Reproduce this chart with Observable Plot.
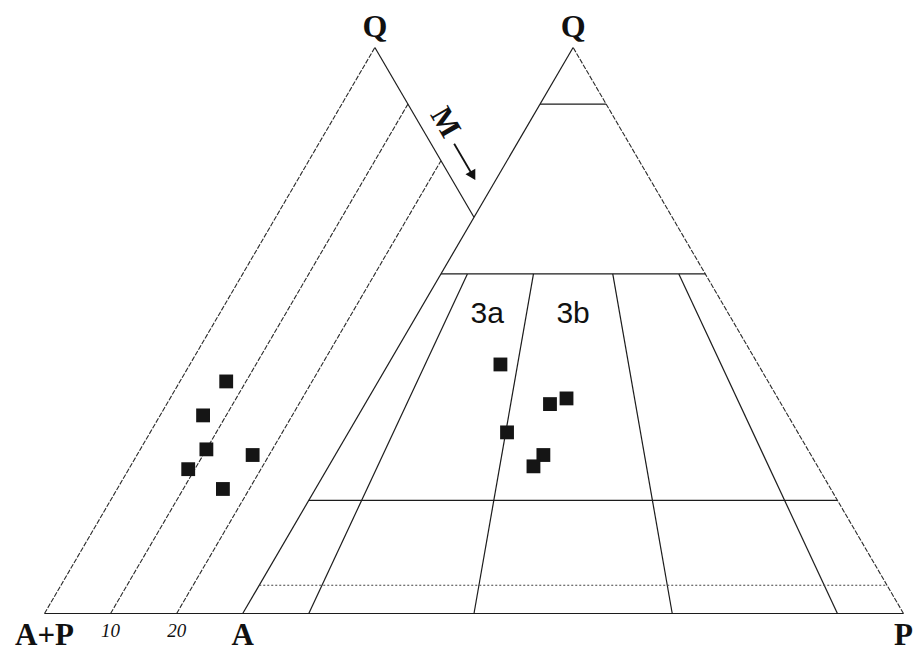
<!DOCTYPE html>
<html>
<head>
<meta charset="utf-8">
<script src="https://cdn.jsdelivr.net/npm/d3@7"></script>
<script src="https://cdn.jsdelivr.net/npm/@observablehq/plot@0.6"></script>
<style>
  html, body { margin: 0; padding: 0; background: #fff; }
  #chart svg { display: block; }
</style>
</head>
<body>
<div id="chart"></div>
<script>
// ---- Data (ternary percentages) ----
// Right triangle: Q – A – P (Streckeisen QAP)
const rightQ = [44, 32, 37, 38, 28, 26];
const rightA = [39, 44, 35, 32, 40.5, 43];
const rightP = [17, 24, 28, 30, 31.5, 31];

// Left triangle: Q – (A+P) – M, with M% lines
const leftQ = [41, 35, 29, 25.5, 28, 22];
const leftM = [7, 6.5, 10, 9, 17.5, 16];

// Field division values
const qLevels = [90, 60, 20];        // solid Q% divisions
const qDotted = [5];                 // dotted Q% division
const pRatios = [10, 35, 65, 90];    // P/(A+P) % radial divisions
const mLevels = [10, 20];            // M% lines in left triangle
const mTickLabels = ["10", "20"];
const mOffset = 30;                  // left triangle base shift (A sits at M = 30)

// Field labels (ternary Q, A, P)
const fieldNames = ["3a", "3b"];
const fieldQ = [53, 53];
const fieldA = [36.5, 23.5];
const fieldP = [10.5, 23.5];

// ---- Ternary helpers ----
const rx = (q, p) => p + q / 2;                 // right triangle x (A=0, P=100)
const lx = (q, m) => -mOffset + m + q / 2;     // left triangle x

const rightPts = rightQ.map((q, i) => {
  const s = q + rightA[i] + rightP[i];
  const Q = q / s * 100, P = rightP[i] / s * 100;
  return {x: rx(Q, P), y: Q};
});
const leftPts = leftQ.map((q, i) => ({x: lx(q, leftM[i]), y: q}));

const solid = [];
// right triangle left edge
solid.push({x1: rx(0, 0), y1: 0, x2: rx(100, 0), y2: 100});
// base across both triangles
solid.push({x1: lx(0, 0), y1: 0, x2: rx(0, 100), y2: 0});
// horizontal Q divisions
qLevels.forEach(q => solid.push({x1: rx(q, 0), y1: q, x2: rx(q, 100 - q), y2: q}));
// radial P/(A+P) divisions from Q=60 to base
pRatios.forEach(r => solid.push({x1: rx(60, 40 * r / 100), y1: 60, x2: rx(0, r), y2: 0}));
// left triangle right side (A+P = 0) from Q=100 down to Q=100-mOffset
solid.push({x1: lx(100, 0), y1: 100, x2: lx(100 - mOffset, mOffset), y2: 100 - mOffset});

const dashed = [];
// left triangle left side
dashed.push({x1: lx(0, 0), y1: 0, x2: lx(100, 0), y2: 100});
// M lines
mLevels.forEach(m => dashed.push({x1: lx(0, m), y1: 0, x2: lx(100 - m, m), y2: 100 - m}));
// right triangle right side
dashed.push({x1: rx(0, 100), y1: 0, x2: rx(100, 0), y2: 100});

const dotted = qDotted.map(q => ({x1: rx(q, 0), y1: q, x2: rx(q, 100 - q), y2: q}));

const fields = fieldNames.map((t, i) => {
  const s = fieldQ[i] + fieldA[i] + fieldP[i];
  const Q = fieldQ[i] / s * 100, P = fieldP[i] / s * 100;
  return {text: t, x: rx(Q, P), y: Q};
});

const apexLabels = [
  {text: "Q", x: lx(100, 0), y: 100},
  {text: "Q", x: rx(100, 0), y: 100}
];
const baseLabels = [
  {text: "A+P", x: lx(0, 0), y: 0, anchor: "middle"},
  {text: "A", x: rx(0, 0), y: 0, anchor: "middle"},
  {text: "P", x: rx(0, 100), y: 0, anchor: "start"}
];
const tickLabels = mLevels.map((m, i) => ({text: mTickLabels[i], x: lx(0, m), y: 0}));

// M arrow along the A+P = 0 side (slightly outside)
const arrowQ1 = 83, arrowQ2 = 77.6, arrowOff = -3.5;
const arrowSeg = [{
  x1: lx(arrowQ1, 100 - arrowQ1 - arrowOff), y1: arrowQ1,
  x2: lx(arrowQ2, 100 - arrowQ2 - arrowOff), y2: arrowQ2
}];
const arrowHead = [{x: lx(arrowQ2, 100 - arrowQ2 - arrowOff), y: arrowQ2}];
const mLabel = [{text: "M", x: lx(86.8, 100 - 86.8 + 4.1), y: 86.8}];

const serif = "Liberation Serif, Times New Roman, serif";

const chart = Plot.plot({
  width: 918,
  height: 652,
  margin: 0,
  style: {background: "#fff"},
  x: {domain: [-30, 100], range: [44, 903], axis: null},
  y: {domain: [0, 100], range: [613, 47], axis: null},
  marks: [
    Plot.link(solid, {x1: "x1", y1: "y1", x2: "x2", y2: "y2", stroke: "#1c1c1c", strokeWidth: 1.2}),
    Plot.link(dashed, {x1: "x1", y1: "y1", x2: "x2", y2: "y2", stroke: "#2a2a2a", strokeWidth: 1.1, strokeDasharray: "5,1.5"}),
    Plot.link(dotted, {x1: "x1", y1: "y1", x2: "x2", y2: "y2", stroke: "#444", strokeWidth: 1.1, strokeDasharray: "2,2"}),
    Plot.dot(leftPts, {x: "x", y: "y", symbol: "square", r: 7.8, fill: "#151515", stroke: "none"}),
    Plot.dot(rightPts, {x: "x", y: "y", symbol: "square", r: 7.8, fill: "#151515", stroke: "none"}),
    Plot.link(arrowSeg, {x1: "x1", y1: "y1", x2: "x2", y2: "y2", stroke: "#111", strokeWidth: 1.8}),
    Plot.dot(arrowHead, {x: "x", y: "y", symbol: "triangle", r: 4.2, rotate: 150, fill: "#111", stroke: "none"}),
    Plot.text(mLabel, {x: "x", y: "y", text: "text", rotate: 60, fontSize: 31, fontWeight: "bold", fontFamily: serif, fill: "#111"}),
    Plot.text(apexLabels, {x: "x", y: "y", text: "text", dy: -21, fontSize: 32, fontWeight: "bold", fontFamily: serif, fill: "#111"}),
    Plot.text(baseLabels, {x: "x", y: "y", text: "text", textAnchor: d => d.anchor, dy: 22, fontSize: 31, fontWeight: "bold", fontFamily: serif, fill: "#111"}),
    Plot.text(tickLabels, {x: "x", y: "y", text: "text", dy: 17, fontSize: 19, fontStyle: "italic", fontFamily: serif, fill: "#111"}),
    Plot.text(fields, {x: "x", y: "y", text: "text", fontSize: 30, fontFamily: "Liberation Sans, Arial, sans-serif", fill: "#111"})
  ]
});
document.getElementById("chart").appendChild(chart);
</script>
</body>
</html>
